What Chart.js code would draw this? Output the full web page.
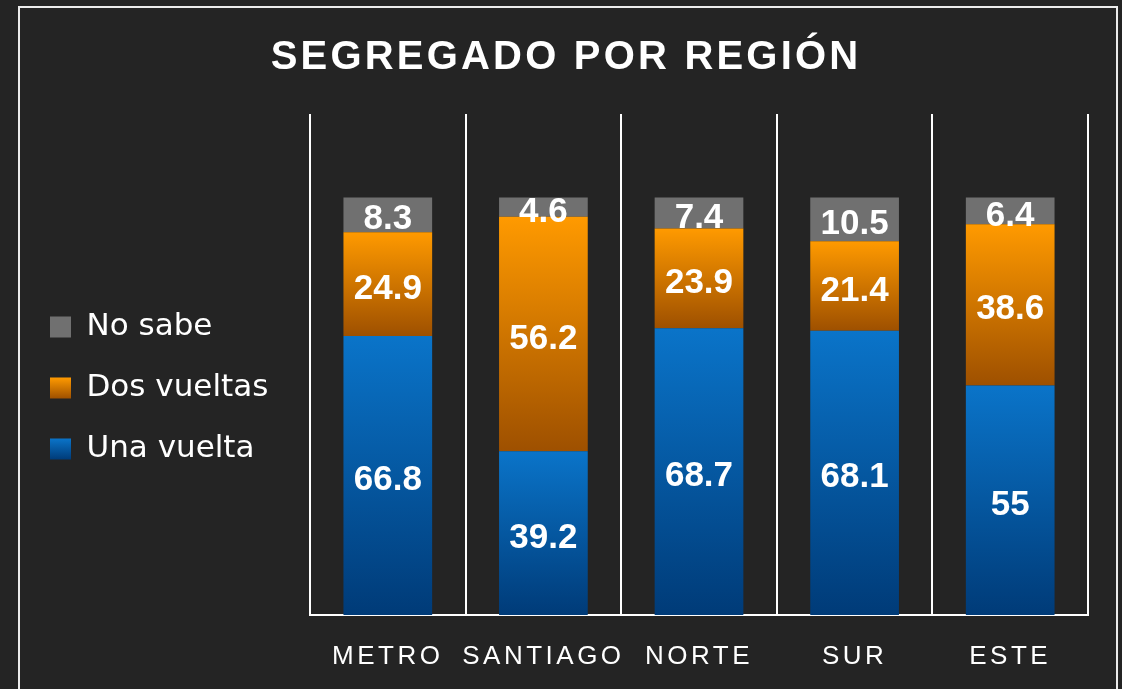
<!DOCTYPE html>
<html>
<head>
<meta charset="utf-8">
<script src="https://cdn.jsdelivr.net/npm/chart.js@4.4.1/dist/chart.umd.min.js"></script>
<style>
html,body{margin:0;padding:0;background:#242424;overflow:hidden}
#wrap{position:relative;width:1122px;height:689px}
canvas{display:block}
</style>
</head>
<body>
<div id="wrap"><canvas id="c" width="1122" height="689"></canvas></div>
<script>
const categories = ['METRO', 'SANTIAGO', 'NORTE', 'SUR', 'ESTE'];
const unaVuelta = [66.8, 39.2, 68.7, 68.1, 55];
const dosVueltas = [24.9, 56.2, 23.9, 21.4, 38.6];
const noSabe = [8.3, 4.6, 7.4, 10.5, 6.4];
const seriesNames = ['Una vuelta', 'Dos vueltas', 'No sabe'];
const titleText = 'SEGREGADO POR REGIÓN';
const yMax = 120;

const FONT = '"Liberation Sans", Arial, sans-serif';
const LEGEND_FONT = '"DejaVu Sans", Verdana, sans-serif';
const BLUE = ['#0a74c9', '#003b78'];
const ORANGE = ['#ff9a00', '#9e5000'];
const GRAY = '#707070';

function segGradient(colors, solid) {
  return (ctx) => {
    const chart = ctx.chart;
    if (ctx.type !== 'data' || !chart.chartArea || !chart.scales.y) return solid;
    const y = chart.scales.y;
    let start = 0;
    for (let d = 0; d < ctx.datasetIndex; d++) start += chart.data.datasets[d].data[ctx.dataIndex];
    const v = chart.data.datasets[ctx.datasetIndex].data[ctx.dataIndex];
    const top = y.getPixelForValue(start + v), bot = y.getPixelForValue(start);
    const g = chart.ctx.createLinearGradient(0, top, 0, bot);
    g.addColorStop(0, colors[0]);
    g.addColorStop(1, colors[1]);
    return g;
  };
}

const legendColors = [BLUE, ORANGE, [GRAY, GRAY]];

const decorPlugin = {
  id: 'decor',
  beforeDraw(chart) {
    const c = chart.ctx;
    const t = chart.titleBlock;
    if (t && !t._w) {
      const o = t.draw.bind(t);
      t.draw = function (a) { c.save(); c.letterSpacing = '3.2px'; c.translate(12, 0); o(a); c.restore(); };
      t._w = true;
    }
    const l = chart.legend;
    if (l && !l._w) {
      const o = l.draw.bind(l);
      l.draw = function (a) {
        (l.legendItems || []).forEach((it, i) => {
          const hb = l.legendHitBoxes && l.legendHitBoxes[i];
          if (!hb) return;
          const cols = legendColors[it.datasetIndex];
          const bt = hb.top + (hb.height - 21) / 2;
          const g = c.createLinearGradient(0, bt, 0, bt + 21);
          g.addColorStop(0, cols[0]); g.addColorStop(1, cols[1]);
          it.fillStyle = g;
        });
        o(a);
      };
      l._w = true;
    }
    const x = chart.scales.x;
    if (x && !x._w) {
      const o = x.drawLabels.bind(x);
      x.drawLabels = function (a) { c.save(); c.letterSpacing = '3.5px'; o(a); c.restore(); };
      x._w = true;
    }
    c.save();
    c.fillStyle = '#242424';
    c.fillRect(0, 0, chart.width, chart.height);
    c.strokeStyle = '#ececec';
    c.lineWidth = 2;
    c.strokeRect(19, 7, 1098, 760);
    c.restore();
  },
  afterDatasetsDraw(chart) {
    const c = chart.ctx;
    c.save();
    c.font = 'bold 35px ' + FONT;
    c.fillStyle = '#ffffff';
    c.textAlign = 'center';
    c.textBaseline = 'middle';
    chart.data.datasets.forEach((ds, di) => {
      const meta = chart.getDatasetMeta(di);
      meta.data.forEach((bar, i) => {
        const yc = (bar.y + bar.base) / 2;
        c.fillText(String(ds.data[i]), bar.x, yc + 5);
      });
    });
    c.restore();
  }
};

new Chart(document.getElementById('c'), {
  type: 'bar',
  data: {
    labels: categories,
    datasets: [
      { label: seriesNames[0], data: unaVuelta, backgroundColor: segGradient(BLUE, '#0560a8') },
      { label: seriesNames[1], data: dosVueltas, backgroundColor: segGradient(ORANGE, '#e08000') },
      { label: seriesNames[2], data: noSabe, backgroundColor: GRAY }
    ]
  },
  options: {
    responsive: false,
    animation: false,
    devicePixelRatio: 1,
    layout: { padding: { left: 20, right: 34, top: 0, bottom: 0 } },
    datasets: { bar: { barPercentage: 0.57, categoryPercentage: 1, borderWidth: 0 } },
    scales: {
      x: {
        stacked: true,
        grid: { display: true, color: '#ffffff', lineWidth: 2, drawTicks: false, offset: true },
        border: { display: true, color: '#ffffff', width: 2 },
        ticks: { color: '#ffffff', font: { family: FONT, size: 26 }, padding: 26 },
        afterFit(s) { s.height = 74; }
      },
      y: {
        stacked: true, min: 0, max: yMax, display: true,
        grid: { display: false }, border: { display: false }, ticks: { display: false },
        afterFit(s) { s.width = Math.max(0, 310 - 20 - (s.chart.legend ? s.chart.legend.width : 0)); }
      }
    },
    plugins: {
      title: {
        display: true, text: titleText, color: '#ffffff',
        font: { family: FONT, size: 40, weight: 'bold', lineHeight: 1.2 },
        padding: { top: 34, bottom: 32 }
      },
      legend: {
        position: 'left', align: 'start', fullSize: false, reverse: true,
        title: { display: true, text: '', font: { size: 10, lineHeight: 1 }, padding: { top: 157.5, bottom: 0 } },
        labels: { color: '#ffffff', boxWidth: 21, boxHeight: 21, padding: 30, font: { family: LEGEND_FONT, size: 31 } }
      },
      tooltip: { enabled: false }
    }
  },
  plugins: [decorPlugin]
});
</script>
</body>
</html>
